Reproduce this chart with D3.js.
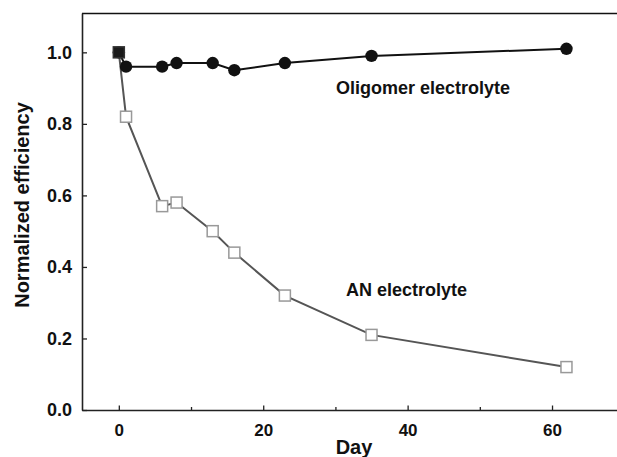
<!DOCTYPE html>
<html>
<head>
<meta charset="utf-8">
<script src="https://cdn.jsdelivr.net/npm/d3@7"></script>
<style>
  html, body { margin: 0; padding: 0; background: #fff; }
  svg { display: block; }
  text { font-family: "Liberation Sans", Arial, sans-serif; font-weight: bold; fill: #111; }
</style>
</head>
<body>
<svg id="chart" width="617" height="457"></svg>
<script>
const days = [0, 1, 6, 8, 13, 16, 23, 35, 62];
const oligomerValues = [1.00, 0.96, 0.96, 0.97, 0.97, 0.95, 0.97, 0.99, 1.01];
const anValues = [1.00, 0.82, 0.57, 0.58, 0.50, 0.44, 0.32, 0.21, 0.12];
const xMajorTicks = [0, 20, 40, 60];
const xMinorTicks = [10, 30, 50];
const yTicks = [0.0, 0.2, 0.4, 0.6, 0.8, 1.0];
const seriesLabels = ["Oligomer electrolyte", "AN electrolyte"];
const xTitle = "Day";
const yTitle = "Normalized efficiency";

const svg = d3.select("#chart");
const mLeft = 82, mRight = 617, mTop = 13, mBottom = 410;

const x = d3.scaleLinear().domain([-5.1, 69]).range([mLeft, mRight]);
const y = d3.scaleLinear().domain([0, 1.11]).range([mBottom, mTop]);

// top frame line
svg.append("line").attr("x1", mLeft).attr("x2", mRight).attr("y1", mTop + 0.5).attr("y2", mTop + 0.5)
  .attr("stroke", "#111").attr("stroke-width", 1.6);

// X axis
const xAxis = d3.axisBottom(x).tickValues(xMajorTicks).tickSizeInner(-4.5).tickSizeOuter(0).tickPadding(14)
  .tickFormat(d3.format("d"));
const gx = svg.append("g").attr("transform", `translate(0,${mBottom})`).call(xAxis);
gx.select(".domain").attr("stroke", "#222").attr("stroke-width", 1.6);
gx.selectAll(".tick line").attr("stroke", "#222").attr("stroke-width", 1.3);
gx.selectAll(".tick text").style("font-size", "17px").style("font-family", "Liberation Sans, Arial, sans-serif")
  .style("font-weight", "bold").attr("fill", "#111");
const gxMinor = svg.append("g").attr("transform", `translate(0,${mBottom})`)
  .call(d3.axisBottom(x).tickValues(xMinorTicks).tickSizeInner(-3).tickSizeOuter(0).tickFormat(""));
gxMinor.select(".domain").remove();
gxMinor.selectAll(".tick line").attr("stroke", "#222").attr("stroke-width", 1.3);

// Y axis
const yAxis = d3.axisLeft(y).tickValues(yTicks).tickSizeInner(-5).tickSizeOuter(0).tickPadding(10)
  .tickFormat(d3.format(".1f"));
const gy = svg.append("g").attr("transform", `translate(${mLeft},0)`).call(yAxis);
gy.select(".domain").attr("stroke", "#222").attr("stroke-width", 1.6);
gy.selectAll(".tick line").attr("stroke", "#222").attr("stroke-width", 1.3);
gy.selectAll(".tick text").style("font-size", "18px").style("font-family", "Liberation Sans, Arial, sans-serif")
  .style("font-weight", "bold").attr("fill", "#111");

// Titles
svg.append("text").attr("x", 354).attr("y", 454).attr("text-anchor", "middle")
  .style("font-size", "20px").text(xTitle);
svg.append("text").attr("transform", "translate(29,205) rotate(-90)").attr("text-anchor", "middle")
  .style("font-size", "20px").text(yTitle);

const line = d3.line().x((d, i) => x(days[i])).y(d => y(d));

// AN series line
svg.append("path").datum(anValues).attr("d", line).attr("fill", "none")
  .attr("stroke", "#555").attr("stroke-width", 2);

// Oligomer line
svg.append("path").datum(oligomerValues).attr("d", line).attr("fill", "none")
  .attr("stroke", "#111").attr("stroke-width", 2);

// Oligomer circles
svg.selectAll("circle.olig").data(oligomerValues).join("circle").attr("class", "olig")
  .attr("cx", (d, i) => x(days[i])).attr("cy", d => y(d)).attr("r", 6.2)
  .attr("fill", "#111");

// AN squares
const sq = 11;
svg.selectAll("rect.an").data(anValues).join("rect").attr("class", "an")
  .attr("x", (d, i) => x(days[i]) - sq / 2).attr("y", d => y(d) - sq / 2)
  .attr("width", sq).attr("height", sq)
  .attr("fill", (d, i) => i === 0 ? "#1a1a1a" : "#fff")
  .attr("stroke", (d, i) => i === 0 ? "#333" : "#999").attr("stroke-width", 1.5);

// Series labels
svg.append("text").attr("x", 336).attr("y", 94).style("font-size", "18px").text(seriesLabels[0]);
svg.append("text").attr("x", 346).attr("y", 296).style("font-size", "18px").text(seriesLabels[1]);
</script>
</body>
</html>
